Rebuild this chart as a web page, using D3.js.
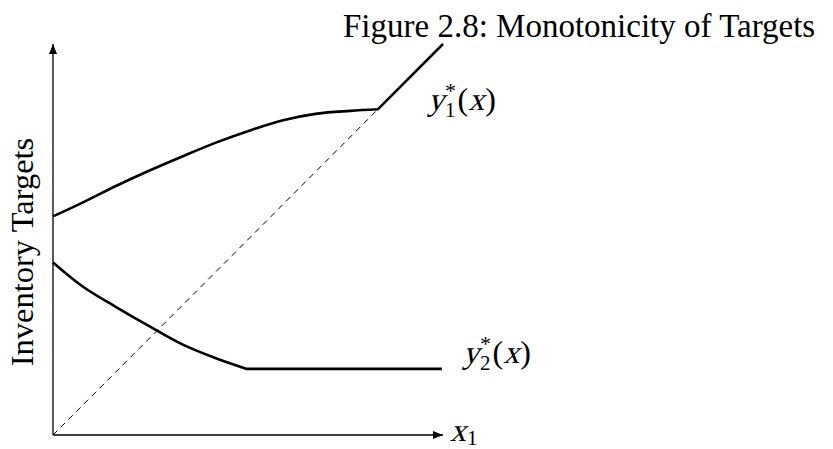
<!DOCTYPE html>
<html>
<head>
<meta charset="utf-8">
<script src="https://cdn.jsdelivr.net/npm/d3@7"></script>
<style>
  html, body { margin: 0; padding: 0; background: #fff; }
  svg { display: block; }
  text { font-family: "Liberation Serif", "Times New Roman", serif; fill: #000; }
</style>
</head>
<body>
<svg id="chart" width="833" height="449"></svg>
<script>
// Target curves in axis units (x1 along the horizontal axis, target level vertical).
// Upper target: concave rise that meets the 45-degree line, then follows it.
const upperCurveX = [0, 0.77, 1.64, 2.49, 3.33, 4.21, 5.05, 5.90, 6.77, 7.62, 8.33];
const upperCurveY = [5.59, 5.95, 6.38, 6.77, 7.13, 7.49, 7.79, 8.05, 8.22, 8.29, 8.33];
const upperTailX = [10.0];
const upperTailY = [10.0];

// Lower target: convex decline that levels off.
const lowerCurveX = [0, 0.77, 1.64, 2.49, 3.33, 4.21, 4.97];
const lowerCurveY = [4.41, 3.79, 3.26, 2.77, 2.31, 1.95, 1.69];
const lowerTailX = [9.97];
const lowerTailY = [1.69];

// Diagonal reference line y = x.
const diagonalX = [0, 8.33];
const diagonalY = [0, 8.33];

const axisMax = [10, 10];
const titleText = "Figure 2.8: Monotonicity of Targets";
const yAxisTitle = "Inventory Targets";

const svg = d3.select("#chart");

const x = d3.scaleLinear().domain([0, axisMax[0]]).range([53, 443]);
const y = d3.scaleLinear().domain([0, axisMax[1]]).range([435, 44]);

const zip = (xs, ys) => xs.map((v, i) => [v, ys[i]]);

// Arrowhead for the axes
const defs = svg.append("defs");
defs.append("marker")
  .attr("id", "arrow")
  .attr("viewBox", "0 0 10 8")
  .attr("refX", 10).attr("refY", 4)
  .attr("markerWidth", 10).attr("markerHeight", 8)
  .attr("markerUnits", "userSpaceOnUse")
  .attr("orient", "auto")
  .append("path")
  .attr("d", "M0,0 L10,4 L0,8 Z")
  .attr("fill", "#000");

// Axes
svg.append("line")
  .attr("x1", x(0)).attr("y1", y(0))
  .attr("x2", x(0)).attr("y2", y(axisMax[1]))
  .attr("stroke", "#000").attr("stroke-width", 1.3)
  .attr("marker-end", "url(#arrow)");
svg.append("line")
  .attr("x1", x(0)).attr("y1", y(0))
  .attr("x2", x(axisMax[0])).attr("y2", y(0))
  .attr("stroke", "#000").attr("stroke-width", 1.3)
  .attr("marker-end", "url(#arrow)");

// Dashed diagonal
svg.append("path")
  .attr("d", d3.line().x(d => x(d[0])).y(d => y(d[1]))(zip(diagonalX, diagonalY)))
  .attr("fill", "none")
  .attr("stroke", "#000")
  .attr("stroke-width", 1)
  .attr("stroke-dasharray", "6,5");

// Smooth part followed by straight segments
const smooth = d3.line().x(d => x(d[0])).y(d => y(d[1])).curve(d3.curveCatmullRom.alpha(0.5));
function targetPath(cx, cy, tx, ty) {
  return smooth(zip(cx, cy)) + zip(tx, ty).map(p => `L${x(p[0])},${y(p[1])}`).join("");
}

svg.append("path")
  .attr("d", targetPath(upperCurveX, upperCurveY, upperTailX, upperTailY))
  .attr("fill", "none").attr("stroke", "#000").attr("stroke-width", 2.6)
  .attr("stroke-linejoin", "miter");

svg.append("path")
  .attr("d", targetPath(lowerCurveX, lowerCurveY, lowerTailX, lowerTailY))
  .attr("fill", "none").attr("stroke", "#000").attr("stroke-width", 2.6)
  .attr("stroke-linejoin", "miter");

// Title
svg.append("text")
  .attr("x", 343).attr("y", 37)
  .attr("font-size", 33)
  .text(titleText);

// Vertical axis title
svg.append("text")
  .attr("transform", "translate(33,252) rotate(-90)")
  .attr("text-anchor", "middle")
  .attr("font-size", 32.5)
  .text(yAxisTitle);

// Math-style label: glyphs laid out one after another; slanted ones get a skew,
// a "stack" glyph shares its horizontal slot with the previous one.
function mathLabel(px, py, parts) {
  const g = svg.append("g").attr("transform", `translate(${px},${py})`);
  let cursor = 0, slotStart = 0, slotWidth = 0;
  parts.forEach(p => {
    const start = p.stack ? slotStart : cursor;
    const t = g.append("text")
      .attr("font-size", p.size)
      .attr("transform", `translate(${start + (p.dx || 0)},${p.dy || 0})` + (p.slant ? " skewX(-15)" : ""))
      .text(p.t);
    const w = t.node().getComputedTextLength() + (p.dx || 0) + (p.after || 0);
    if (p.stack) {
      slotWidth = Math.max(slotWidth, w);
      cursor = slotStart + slotWidth;
    } else {
      slotStart = start;
      slotWidth = w;
      cursor = start + w;
    }
  });
}

function targetParts(idx) {
  return [
    { t: "y", size: 32, slant: true, after: 1 },
    { t: "*", size: 22, dy: -12 },
    { t: idx, size: 21, dy: 7, stack: true, after: 2 },
    { t: "(", size: 32 },
    { t: "x", size: 32, slant: true, after: 1 },
    { t: ")", size: 32 }
  ];
}
mathLabel(428, 110, targetParts("1"));
mathLabel(463, 363, targetParts("2"));

// Horizontal axis label
mathLabel(450, 441, [
  { t: "x", size: 32, slant: true, after: 1 },
  { t: "1", size: 21, dy: 4 }
]);
</script>
</body>
</html>
